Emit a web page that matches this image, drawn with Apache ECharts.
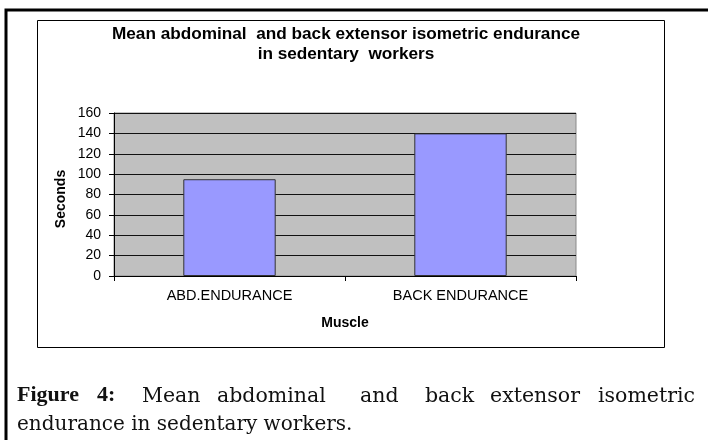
<!DOCTYPE html>
<html>
<head>
<meta charset="utf-8">
<script src="https://cdn.jsdelivr.net/npm/echarts@6/dist/echarts.min.js"></script>
<style>
html,body{margin:0;padding:0;background:#fff;}
#c{width:708px;height:440px;}
</style>
</head>
<body>
<div id="c"></div>
<script>
var categories = ['ABD.ENDURANCE', 'BACK ENDURANCE'];
var seconds = [95, 140];
var yTicks = [0, 20, 40, 60, 80, 100, 120, 140, 160];
var chartTitle = 'Mean abdominal  and back extensor isometric endurance\nin sedentary  workers';
var xName = 'Muscle';
var yName = 'Seconds';
var captionLine1 = [
  {t: 'Figure', x: 17, b: true},
  {t: '4:', x: 97, b: true},
  {t: 'Mean', x: 142},
  {t: 'abdominal', x: 217},
  {t: 'and', x: 360},
  {t: 'back', x: 425},
  {t: 'extensor', x: 490},
  {t: 'isometric', x: 598}
];
var captionLine2 = 'endurance in sedentary workers.';

var chart = echarts.init(document.getElementById('c'), null, {renderer: 'canvas'});
var sans = 'Arial, "Liberation Sans", sans-serif';
var serif = '"DejaVu Serif", "Liberation Serif", serif';
var serifBold = '"Liberation Serif", "DejaVu Serif", serif';
var graphics = [
  {type: 'rect', shape: {x: 6, y: 10, width: 760, height: 500}, style: {fill: 'none', stroke: '#000', lineWidth: 3}, z: 0},
  {type: 'rect', shape: {x: 37.5, y: 20.5, width: 627, height: 327}, style: {fill: 'none', stroke: '#000', lineWidth: 1}, z: 0},
  {type: 'text', x: 61, y: 199, rotation: Math.PI / 2, style: {text: yName, font: 'bold 14px ' + sans, fill: '#000', align: 'center', verticalAlign: 'middle'}}
];
captionLine1.forEach(function (w) {
  graphics.push({type: 'text', x: w.x, y: w.b ? 395 : 397, style: {text: w.t, font: w.b ? ('bold 22px ' + serifBold) : ('20.5px ' + serif), fill: '#111', verticalAlign: 'middle', align: 'left'}});
});
graphics.push({type: 'text', x: 17, y: 425, style: {text: captionLine2, font: '20px ' + serif, fill: '#111', verticalAlign: 'middle', align: 'left'}});

chart.setOption({
  backgroundColor: '#fff',
  animation: false,
  title: {
    text: chartTitle,
    left: 341,
    top: 19,
    textAlign: 'center',
    textStyle: {fontFamily: sans, fontWeight: 'bold', fontSize: 17.2, color: '#000', lineHeight: 20}
  },
  grid: {left: 114, right: 132, top: 113, bottom: 164, show: true, backgroundColor: '#C0C0C0', borderColor: '#8a8a8a', borderWidth: 1},
  xAxis: {
    type: 'category',
    data: categories,
    name: xName,
    nameLocation: 'middle',
    nameGap: 40,
    nameTextStyle: {fontFamily: sans, fontWeight: 'bold', fontSize: 14, color: '#000'},
    axisLine: {lineStyle: {color: '#000', width: 1}},
    axisTick: {show: true, length: 5, lineStyle: {color: '#000'}},
    axisLabel: {margin: 12, fontFamily: sans, fontSize: 14.5, color: '#000'}
  },
  yAxis: {
    type: 'value',
    min: yTicks[0],
    max: yTicks[yTicks.length - 1],
    interval: yTicks[1] - yTicks[0],
    axisLine: {show: true, lineStyle: {color: '#000', width: 1}},
    axisTick: {show: true, length: 5, lineStyle: {color: '#000'}},
    axisLabel: {margin: 13, fontFamily: sans, fontSize: 14, color: '#000'},
    splitLine: {show: true, lineStyle: {color: '#111', width: 1.2}}
  },
  series: [{
    type: 'bar',
    data: seconds,
    barWidth: '40%',
    itemStyle: {color: '#9999FF', borderColor: '#333', borderWidth: 1}
  }],
  graphic: graphics
});
</script>
</body>
</html>
